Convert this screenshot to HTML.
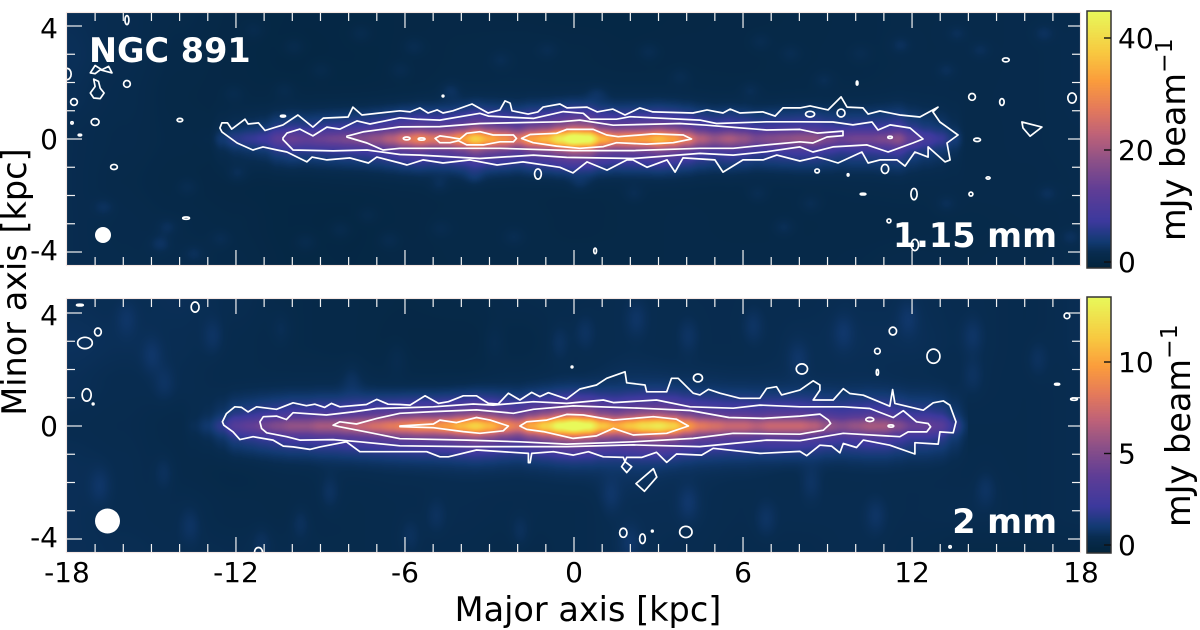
<!DOCTYPE html>
<html lang="en">
<head>
<meta charset="utf-8">
<title>NGC 891 millimetre maps</title>
<style>
html,body{margin:0;padding:0;background:#fff;width:1200px;height:630px;overflow:hidden}
#figure{position:relative;width:1200px;height:630px;font-family:"DejaVu Sans","Liberation Sans",sans-serif}
canvas{position:absolute;display:block}
svg{position:absolute;left:0;top:0}
text{font-family:"DejaVu Sans","Liberation Sans",sans-serif}
</style>
</head>
<body>
<div id="figure">
<canvas id="map-top" width="1013" height="252" style="left:67px;top:13px"></canvas>
<canvas id="map-bottom" width="1013" height="253" style="left:67px;top:299px"></canvas>
<canvas id="bar-top" width="24" height="257" style="left:1087px;top:11px"></canvas>
<canvas id="bar-bottom" width="24" height="256" style="left:1087px;top:297px"></canvas>
<svg id="overlay" width="1200" height="630" viewBox="0 0 1200 630"></svg>
</div>
<script>
/* ---------- shared axis data ---------- */
const xMajorTicks = [-18,-12,-6,0,6,12,18];
const yMajorTicks = [-4,0,4];
const xLimits = [-18,18];
const ridgeX = [-14,-13.5,-13,-12.5,-12,-11.5,-11,-10.5,-10,-9.5,-9,-8.5,-8,-7.5,-7,-6.5,-6,-5.5,-5,-4.5,-4,-3.5,-3,-2.5,-2,-1.5,-1,-0.5,0,0.5,1,1.5,2,2.5,3,3.5,4,4.5,5,5.5,6,6.5,7,7.5,8,8.5,9,9.5,10,10.5,11,11.5,12,12.5,13,13.5,14];
const bgX = [-18,-16,-14,-12,-10,-8,-6,-4,-2,0,2,4,6,8,10,12,14,16,18];
const bgY = [4.5,3,1.5,0,-1.5,-3,-4.5];
const colorT = [0,0.06,0.10,0.18,0.30,0.415,0.52,0.62,0.73,0.84,1];
const colorHex = ['#03243c','#082c50','#123a72','#3c399d','#5f3d96','#8c5088','#bf6278','#e57a5b','#fb9d3c','#f8c940','#e8f95a'];

/* ---------- 1.15 mm panel ---------- */
const topRidge = [0,0,0.3,3,5,6,7,11,13,12,13,14,15,16,18,21,25,28,26,27,31,38,33,30,26,32,35,42,48,46,34,30,31,32,35,32,27,21,18,20,18,15,16,17,18,18,15,13,14,14,15,17,11,8,6,3,0];
const topBackground = [
[2,1.6,1,0.5,0.2,0.2,0.4,0.5,0.4,0.3,0.3,0.4,0.5,0.6,0.8,1,1,1.2,1.4],
[2.2,1.6,0.8,0.4,0.1,0.2,0.4,0.6,0.8,0.6,0.4,0.5,0.5,0.7,0.8,1,1,1.2,1.5],
[2,1.4,0.6,0.4,0.3,0.3,0.4,0.8,0.9,0.8,0.8,0.7,0.6,0.7,0.9,1.1,1.1,1.2,1.5],
[1.6,1.2,0.8,0.4,0.6,0.8,0.8,0.8,0.8,0.8,0.8,0.8,0.8,0.8,0.8,0.8,1,1.2,1.4],
[1.6,1,0.6,0.3,0.2,0.3,0.4,0.5,0.5,0.4,0.6,0.6,0.6,0.7,0.9,1,1.1,1.1,1.3],
[1.6,1.2,0.9,0.6,0.2,0.1,0.4,0.7,0.7,0.5,0.6,0.8,0.6,0.7,0.8,0.8,0.9,1,1.2],
[1.6,1.3,1.2,0.8,0.3,0.2,0.5,0.6,0.7,0.7,0.6,0.8,0.9,0.8,0.9,1.1,1,1.1,1.3]
];
const topTexture = [[-9.96,3.28,1.2],[-7.59,3.75,1.2],[-5.7,3.28,1.4],[-6.17,2.45,1.2],[-11.38,3.87,1],[-9,2.45,1],[-0.96,3.16,1.2],[-2.62,2.81,1.2],[-4.4,1.75,1.4],[-10.3,1.75,1],[-12.1,1.63,1],[2.64,3.1,1.4],[6.6,3.46,1.2],[7.67,3.04,1.2],[3.76,2.22,1.2],[11.57,3.34,1.4],[13.58,3.75,1.2],[14.4,3.16,1.2],[10.15,3.04,1],[8.85,2.1,1.2],[16.66,3.75,1.2],[6.25,1.75,1.2],[0.81,1.63,1.2],[13.2,2.45,1.2],[-11.97,-1.21,1.4],[-13.74,-1.68,1.2],[-16.7,-2.39,1.2],[-14.45,-3.1,1.4],[-14.7,-3.69,1.6],[-12.56,-3.51,1.2],[-8.3,-3.2,1.2],[-9.54,-3.63,1.2],[-6.58,-3.57,1.2],[-4.75,-3.16,1],[-4.8,-1.62,1.2],[-3.57,-1.33,1.2],[-2.15,-3.45,1.2],[-7.35,-2.69,1],[-13.5,-4.04,1.2],[2.11,-1.92,1.2],[0.2,-1.57,1.2],[6.5,-1.92,1.2],[7.43,-3.1,1.4],[8.38,-2.27,1.2],[13.2,-2.27,1.2],[16.78,-1.92,1.2],[17.6,-3.45,1.2]];
const topBar = {min:-1,max:45};
const topBarTicks = [0,20,40];
const topOuter = [[-12.57,0.39],[-12.5,0.57],[-12.3,0.57],[-12.15,0.35],[-11.68,0.7],[-11.57,0.53],[-11.2,0.57],[-10.97,0.3],[-10.33,0.5],[-9.8,0.85],[-9.27,0.42],[-8.9,0.74],[-8.02,0.78],[-7.85,1.13],[-7.53,0.85],[-6.18,1],[-5.82,0.96],[-5.47,1.1],[-5.18,0.92],[-4.86,1.03],[-4.65,0.92],[-4.3,1],[-3.62,1.24],[-3.05,0.92],[-2.63,1.03],[-2.45,1.35],[-2.27,1.27],[-2.2,1],[-1.63,0.88],[-1.28,0.96],[-1.1,1.13],[-0.5,1.24],[-0.25,1.1],[0.46,1.13],[0.82,0.96],[1.38,1.06],[1.81,0.85],[2.34,1.1],[2.8,0.96],[4.22,0.92],[4.72,1.03],[5.29,0.92],[5.54,1.06],[5.89,0.92],[6.71,0.96],[7.14,0.81],[7.42,1.1],[8.02,1.1],[8.38,1.17],[9.02,1.03],[9.48,1.49],[9.69,1.13],[10.26,1.1],[10.44,0.88],[10.86,0.99],[11.57,0.85],[12.28,0.78],[12.92,1.13],[12.74,0.96],[12.99,0.6],[13.24,0.42],[13.63,0.14],[13.24,-0.14],[13.35,-0.74],[13.17,-0.81],[12.57,-0.28],[12.57,-0.64],[12.1,-0.46],[11.75,-0.96],[11.47,-0.74],[10.86,-0.74],[10.44,-0.85],[10.22,-0.46],[9.37,-0.85],[9.02,-0.74],[8.63,-0.64],[8.02,-0.78],[7.2,-0.57],[6.71,-0.74],[6,-0.74],[5.29,-1.17],[5,-0.74],[3.87,-0.67],[3.59,-1.17],[3.3,-0.74],[2.59,-1],[2.09,-0.74],[1.88,-0.74],[1.17,-1.1],[0.46,-0.81],[-0.04,-1.2],[-0.5,-1],[-1.81,-0.81],[-2.73,-0.92],[-3.69,-0.74],[-4.65,-0.85],[-5.36,-0.74],[-5.93,-0.92],[-6.18,-0.85],[-7,-0.64],[-7.3,-0.85],[-7.95,-0.67],[-8.77,-0.74],[-9.3,-0.64],[-9.48,-0.81],[-10.19,-0.46],[-10.54,-0.39],[-11.04,-0.28],[-11.4,-0.39],[-11.96,-0.14],[-12.5,0.25]];
const topMiddle = [[-10.33,0.04],[-10.19,0.21],[-9.73,0.35],[-9.27,0.11],[-8.77,0.42],[-8.31,0.35],[-7.7,0.64],[-7.24,0.53],[-6.18,0.75],[-5.59,0.7],[-4.76,0.67],[-3.34,0.91],[-3.04,0.81],[-1.44,0.73],[-0.38,0.97],[0.33,0.91],[0.57,0.7],[1.51,0.7],[1.99,0.79],[4.47,0.67],[5.06,0.55],[6.84,0.61],[8.02,0.61],[9.19,0.6],[9.9,0.5],[10.58,0.6],[10.79,0.32],[11.22,0.5],[11.93,0.39],[12.39,0],[12.03,-0.14],[11.15,-0.46],[10.4,-0.21],[9.19,-0.28],[8.48,-0.46],[8.02,-0.28],[6.84,-0.45],[5.65,-0.57],[4.47,-0.51],[2.1,-0.69],[-0.26,-0.65],[-1.44,-0.57],[-3.34,-0.69],[-5.47,-0.57],[-6.18,-0.55],[-7.35,-0.39],[-8.55,-0.42],[-9.97,-0.39],[-10.33,-0.02]];
const topInner = [[-8.06,0.1],[-7.49,0.25],[-6.18,0.43],[-4.76,0.44],[-3.34,0.55],[-0.5,0.61],[0.21,0.67],[1.39,0.49],[3.76,0.55],[4.71,0.49],[6.84,0.32],[8.02,0.34],[8.63,0.21],[9.55,0.28],[9.55,0.12],[8.98,0.07],[8.48,-0.14],[8.02,-0.1],[6.84,-0.21],[5.65,-0.33],[4.47,-0.33],[2.1,-0.41],[-0.03,-0.41],[-2.63,-0.33],[-4.99,-0.33],[-6.18,-0.33],[-6.78,-0.39],[-7.35,-0.14],[-8.06,0.07]];
const topCoreWest = [[-4.93,0.02],[-4.76,0.11],[-4.4,0.06],[-4.05,0],[-3.81,0.2],[-3.34,0.26],[-2.87,0.14],[-2.15,0.14],[-2.04,0.02],[-2.15,-0.1],[-2.63,-0.1],[-3.22,-0.21],[-3.81,-0.21],[-4.1,-0.06],[-4.4,-0.13],[-4.76,-0.13]];
const topCoreEast = [[-1.86,0.02],[-1.56,0.16],[-0.62,0.2],[-0.26,0.34],[0.68,0.34],[1.16,0.14],[1.57,0.08],[2.81,0.18],[3.88,0.14],[4.17,0],[3.52,-0.13],[2.58,-0.18],[1.51,-0.13],[1.04,-0.27],[0.21,-0.33],[-0.62,-0.25],[-1.45,-0.13]];
const topIslandEast = [[15.9,0.6],[16.61,0.42],[16.19,0.1],[15.94,0.39]];
const topBeanNorth = [[-17.17,2.34],[-17,2.6],[-16.76,2.45],[-16.52,2.57],[-16.4,2.34],[-16.82,2.45],[-17,2.31]];
const topBeanSouth = [[-17.05,2.12],[-16.88,2.04],[-16.82,1.8],[-16.68,1.63],[-16.82,1.43],[-17.05,1.45],[-17.17,1.63],[-17,1.86]];
const topIslands = [[-15.87,4.21,0.07,0.16],[-15.87,1.95,0.12,0.12],[-17.75,1.31,0.12,0.12],[-17,0.6,0.14,0.12],[-13.99,0.67,0.1,0.06],[-10.33,0.81,0.09,0.03],[-16.33,-0.99,0.12,0.09],[-13.77,-2.8,0.12,0.04],[-18,2.3,0.15,0.2],[-17.82,0.57,0.04,0.04],[-17.54,0.14,0.06,0.03],[15.33,2.8,0.12,0.07],[10.05,1.98,0.03,0.07],[14.13,1.49,0.12,0.12],[15.19,1.31,0.08,0.12],[17.68,1.45,0.15,0.18],[14.31,-0.03,0.12,0.06],[9.48,0.92,0.14,0.14],[8.38,0.88,0.16,0.1],[8.63,-1.13,0.08,0.07],[9.73,-1.27,0.03,0.04],[11.04,-1.06,0.13,0.16],[10.26,-1.95,0.1,0.03],[12.07,-1.95,0.11,0.2],[14.09,-1.95,0.07,0.07],[14.7,-1.38,0.07,0.04],[11.18,-2.9,0.07,0.07],[12.1,-3.75,0.13,0.2],[-4.65,1.52,0.03,0.03],[-1.28,-1.24,0.12,0.18],[0.75,-3.96,0.05,0.1],[-5.94,0.02,0.12,0.05],[-5.41,0,0.12,0.04],[11.22,0.06,0.08,0.04]];

/* ---------- 2 mm panel ---------- */
const bottomRidge = [0,0.3,0.7,1.5,3,3.5,4,4.5,5,5,5.5,5.5,6,6.5,7,7.5,8,8.5,8.5,9,10,11,10,8.5,7.5,9.5,11,13,14,13,10.5,9.5,10.5,11.5,12,11,9,7.5,7,6.5,6.5,6,6.5,6.5,6.5,6,5,4.5,5,5.5,5.5,4.5,3.5,3.5,3,1.5,0.3];
const bottomBackground = [
[0.5,0.45,0.5,0.4,0.15,0.1,0.05,0.1,0.25,0.3,0.4,0.35,0.35,0.4,0.45,0.45,0.4,0.3,0.45],
[0.6,0.5,0.45,0.3,0.15,0.1,0,0,0.1,0.3,0.4,0.35,0.35,0.45,0.5,0.5,0.4,0.3,0.45],
[0.5,0.4,0.4,0.25,0.25,0.25,0.1,0.1,0.25,0.35,0.55,0.5,0.45,0.45,0.45,0.4,0.35,0.3,0.4],
[0.4,0.35,0.2,0.15,0.4,0.5,0.5,0.5,0.5,0.5,0.5,0.5,0.5,0.5,0.5,0.4,0.3,0.3,0.4],
[0.5,0.4,0.2,0.1,0.2,0.3,0.35,0.4,0.4,0.45,0.6,0.45,0.4,0.3,0.35,0.35,0.3,0.3,0.4],
[0.5,0.4,0.35,0.2,0.15,0.25,0.3,0.35,0.3,0.3,0.45,0.45,0.35,0.4,0.4,0.35,0.4,0.3,0.4],
[0.5,0.45,0.4,0.35,0.3,0.25,0.3,0.3,0.15,0.3,0.45,0.4,0.3,0.3,0.4,0.3,0.15,0.15,0.2]
];
const bottomTexture = [[-12.83,3.2,0.35],[-15,2.5,0.35],[-15.9,3.8,0.3],[-10.4,3.44,0.3],[-0.55,2.97,0.35],[0.37,3.32,0.35],[4.04,3.2,0.35],[6.34,3.56,0.35],[9.55,3.32,0.35],[14.14,3.2,0.35],[16.44,2.38,0.3],[2.2,3.8,0.35],[11.85,3.8,0.35],[-6.29,2.38,0.3],[-2.85,2.97,0.3],[7.94,2.38,0.35],[-14.56,1.55,0.3],[14.14,1.8,0.3],[-7.9,1.67,0.3],[-8.7,-2.34,0.4],[-9.73,-3.4,0.4],[-16.85,-2.1,0.35],[-14.56,-1.63,0.35],[-13.64,-3.5,0.35],[-1.93,-3.75,0.35],[-4.91,-3.16,0.3],[1.29,-2.45,0.35],[4.04,-2.69,0.4],[8.4,-1.98,0.35],[14.6,-2.22,0.35],[6.8,-3.28,0.35],[1.97,-4.1,0.35],[-11.1,-4.1,0.3],[10.7,-3.16,0.35],[-5.83,-3.87,0.3]];
const bottomBar = {min:-0.42,max:13.3};
const bottomBarTicks = [0,5,10];
const bottomOuter = [[-12.48,0.15],[-12.34,0.44],[-12.04,0.68],[-11.8,0.66],[-11.57,0.5],[-11.27,0.68],[-10.56,0.59],[-9.97,0.82],[-9.5,0.72],[-9.2,0.77],[-8.85,0.66],[-8.61,0.8],[-8.31,0.68],[-7.37,0.76],[-7,0.94],[-6.6,0.77],[-6.18,0.76],[-5.82,0.74],[-5.29,1.07],[-4.81,0.8],[-4.46,0.86],[-3.93,1.07],[-3.46,1.07],[-3.04,0.8],[-2.69,0.78],[-2.33,1.16],[-1.92,0.92],[-1.5,1.19],[-1.21,1.04],[-0.91,1.18],[-0.26,0.96],[0.21,1.31],[0.8,1.45],[1.16,1.69],[1.81,1.92],[1.87,1.53],[2.52,1.45],[2.58,1.21],[3.29,1.21],[3.46,1.69],[3.7,1.69],[4.23,1.16],[4.47,1.1],[4.77,1.3],[5.18,1.16],[5.89,0.98],[6.6,0.98],[6.84,1.33],[7.19,1.39],[7.37,1.1],[8.02,1.27],[8.49,1.6],[8.73,1.45],[8.73,1.27],[8.49,0.92],[9.2,0.92],[9.56,1.32],[9.79,1.15],[10.27,1.09],[11.21,0.7],[11.31,1.29],[11.39,0.8],[12.4,0.56],[12.75,0.82],[13.11,0.89],[13.34,0.74],[13.56,0.15],[13.46,-0.24],[12.99,-0.21],[12.93,-0.64],[12.1,-0.59],[12.1,-0.99],[11.21,-0.68],[10.27,-0.5],[10.03,-0.76],[9.56,-0.62],[9.44,-0.95],[9.14,-0.71],[8.73,-0.68],[8.26,-1.05],[8.02,-0.9],[6.6,-0.97],[4.94,-0.79],[4.53,-1.03],[3.64,-0.99],[3.29,-1.29],[2.93,-0.93],[2.4,-1.11],[1.87,-1.11],[1.81,-1.26],[2.05,-1.44],[1.87,-1.65],[1.69,-1.44],[1.81,-1.26],[1.75,-1.11],[1.04,-1.09],[0.51,-0.91],[-0.02,-1.03],[-0.73,-0.91],[-1.5,-0.97],[-1.56,-1.3],[-1.62,-1.3],[-1.62,-0.97],[-3.46,-0.85],[-4.46,-1.09],[-4.76,-1.09],[-5.23,-0.91],[-6.18,-0.91],[-7.25,-0.91],[-7.6,-0.91],[-8.08,-0.56],[-9.02,-0.74],[-9.38,-0.83],[-9.97,-0.74],[-10.32,-0.71],[-10.68,-0.5],[-11.39,-0.38],[-11.86,-0.48],[-12.1,-0.21],[-12.43,0.03]];
const bottomMiddle = [[-11.15,0.15],[-11.03,0.33],[-10.56,0.35],[-10.21,0.23],[-9.97,0.47],[-8.79,0.39],[-7.84,0.5],[-7,0.62],[-6.18,0.64],[-4.99,0.68],[-3.58,0.78],[-2.87,0.74],[-1.44,0.86],[-0.26,0.8],[1.04,0.92],[1.4,0.83],[2.93,0.92],[4.12,0.68],[5.65,0.63],[6.6,0.74],[8.02,0.68],[9.56,0.68],[10.5,0.62],[11.33,0.3],[11.69,0.54],[12.16,0.15],[12.57,0.09],[12.66,-0.03],[12.52,-0.21],[11.86,-0.21],[11.57,-0.38],[9.56,-0.26],[8.02,-0.52],[6.84,-0.5],[4.47,-0.73],[2.1,-0.67],[-0.26,-0.73],[-2.27,-0.73],[-3.81,-0.73],[-6.18,-0.7],[-7.6,-0.56],[-8.55,-0.48],[-9.73,-0.5],[-10.2,-0.38],[-10.91,-0.24],[-11.09,-0.09]];
const bottomInner = [[-8.55,0.03],[-8.31,0.15],[-7.72,0.07],[-7,0.27],[-6.18,0.45],[-4.99,0.51],[-3.46,0.57],[-2.15,0.45],[-1.44,0.59],[-0.03,0.71],[2.34,0.63],[4.12,0.55],[5.5,0.3],[6.72,0.27],[8.02,0.35],[8.73,0.42],[9.03,0.21],[9.11,0.09],[8.85,-0.15],[8.02,-0.29],[5.65,-0.26],[4.23,-0.44],[2.1,-0.56],[-0.26,-0.64],[-1.92,-0.56],[-3.81,-0.5],[-6.18,-0.45],[-7.37,-0.21],[-8.31,-0.03]];
const bottomCoreWest = [[-6.18,0],[-4.99,0.07],[-4.76,0.21],[-4.17,0.12],[-3.46,0.3],[-2.98,0.21],[-2.33,0],[-2.51,-0.17],[-3.34,-0.26],[-3.93,-0.2],[-4.99,-0.06],[-6.18,-0.02]];
const bottomCoreEast = [[-1.92,0],[-1.68,0.15],[-0.97,0.21],[-0.26,0.41],[0.33,0.39],[1.4,0.21],[2.82,0.33],[3.64,0.24],[4.06,0],[3.29,-0.26],[2.1,-0.32],[1.4,-0.08],[0.8,-0.35],[-0.03,-0.44],[-1.09,-0.2],[-1.68,-0.12]];
const bottomIslandSouth = [[2.82,-1.51],[2.2,-2.04],[2.5,-2.31],[2.94,-1.81]];
const bottomIslands = [[-17.54,4.28,0.12,0.03],[-16.9,3.33,0.12,0.14],[-17.36,2.94,0.26,0.2],[-17.3,1.1,0.16,0.22],[-17.07,0.78,0.03,0.03],[-13.45,4.21,0.14,0.18],[-11.2,-4.46,0.14,0.16],[11.32,3.36,0.13,0.14],[10.77,2.65,0.1,0.1],[12.76,2.47,0.23,0.25],[10.77,1.9,0.04,0.1],[17.5,3.9,0.1,0.1],[17.15,1.48,0.09,0.03],[17.75,0.95,0.12,0.04],[13.35,-4.28,0.04,0.04],[8.09,2.02,0.2,0.18],[4.4,1.7,0.16,0.14],[-0.07,2.09,0.03,0.03],[1.75,-3.78,0.13,0.16],[2.43,-3.99,0.1,0.17],[2.78,-3.72,0.03,0.03],[3.97,-3.75,0.22,0.2],[10.5,0.23,0.14,0.07],[11.25,0,0.1,0.04]];

/* ---------- geometry of the figure ---------- */
const NS = 'http://www.w3.org/2000/svg';
const overlay = document.getElementById('overlay');
const axisLeft = 67, axisRight = 1080;
const panels = [
  {key:'top',  top:13, bottom:265, zero:139, ridge:topRidge, bg:topBackground, texture:topTexture, blobRx:0.36, blobRy:0.3, bar:topBar, ticks:topBarTicks, barTop:11, barBottom:268,
   levels:[topOuter,topMiddle,topInner,topCoreWest,topCoreEast], shapes:[topIslandEast,topBeanNorth,topBeanSouth], islands:topIslands, canvas:'map-top', barCanvas:'bar-top'},
  {key:'bottom',top:299,bottom:552,zero:426, ridge:bottomRidge,bg:bottomBackground,texture:bottomTexture, blobRx:0.36, blobRy:0.6, bar:bottomBar,ticks:bottomBarTicks,barTop:297,barBottom:553,
   levels:[bottomOuter,bottomMiddle,bottomInner,bottomCoreWest,bottomCoreEast], shapes:[bottomIslandSouth], islands:bottomIslands, canvas:'map-bottom', barCanvas:'bar-bottom'}
];
function xScale(v){ return 574 + v * 28.17; }
function yScale(panel, v){ return panel.zero - v * 28.25; }
function xInvert(px){ return (px - 574) / 28.17; }
function yInvert(panel, py){ return (panel.zero - py) / 28.25; }

function hexRgb(h){ return [parseInt(h.slice(1,3),16),parseInt(h.slice(3,5),16),parseInt(h.slice(5,7),16)]; }
const colorRgb = colorHex.map(hexRgb);
function colormap(t){
  t = Math.max(0, Math.min(1, t));
  let i = 0;
  while (i < colorT.length - 2 && t > colorT[i + 1]) i++;
  const f = (t - colorT[i]) / (colorT[i + 1] - colorT[i]);
  return [0,1,2].map(k => colorRgb[i][k] + (colorRgb[i + 1][k] - colorRgb[i][k]) * f);
}
function smooth(f){ return f * f * (3 - 2 * f); }
function locate(arr, v, descending){
  const n = arr.length;
  for (let i = 0; i < n - 1; i++) {
    const a = arr[i], b = arr[i + 1];
    if (descending ? v >= b : v <= b) {
      return [i, Math.max(0, Math.min(1, (v - a) / (b - a)))];
    }
  }
  return [n - 2, 1];
}
function ridgeAt(series, x){
  if (x < ridgeX[0] || x > ridgeX[ridgeX.length - 1]) return 0;
  const [i, f] = locate(ridgeX, x, false);
  return series[i] + (series[i + 1] - series[i]) * smooth(f);
}
function backgroundAt(grid, x, y){
  const [c, fx] = locate(bgX, x, false);
  const [r, fy] = locate(bgY, y, true);
  const sx = smooth(fx), sy = smooth(fy);
  const a = grid[r][c] + (grid[r][c + 1] - grid[r][c]) * sx;
  const b = grid[r + 1][c] + (grid[r + 1][c + 1] - grid[r + 1][c]) * sx;
  return a + (b - a) * sy;
}
function verticalProfile(y){
  return 0.5 * Math.exp(-(y * y) / (0.3 * 0.3)) + 0.5 * Math.exp(-(y * y) / (0.9 * 0.9));
}
function drawMap(panel){
  const cv = document.getElementById(panel.canvas);
  const ctx = cv.getContext('2d');
  const w = cv.width, h = cv.height;
  const field = new Float32Array(w * h);
  for (let py = 0; py < h; py++) {
    const y = yInvert(panel, panel.top + py + 0.5);
    const vp = verticalProfile(y);
    for (let px = 0; px < w; px++) {
      const x = xInvert(axisLeft + px + 0.5);
      field[py * w + px] = backgroundAt(panel.bg, x, y) + ridgeAt(panel.ridge, x) * vp;
    }
  }
  panel.texture.forEach(b => {
    const cx = xScale(b[0]) - axisLeft, cy = yScale(panel, b[1]) - panel.top;
    const sx = panel.blobRx * 28.17, sy = panel.blobRy * 28.25;
    const x0 = Math.max(0, Math.floor(cx - 3 * sx)), x1 = Math.min(w - 1, Math.ceil(cx + 3 * sx));
    const y0 = Math.max(0, Math.floor(cy - 3 * sy)), y1 = Math.min(h - 1, Math.ceil(cy + 3 * sy));
    for (let py = y0; py <= y1; py++) {
      for (let px = x0; px <= x1; px++) {
        const dx = (px - cx) / sx, dy = (py - cy) / sy;
        field[py * w + px] += b[2] * Math.exp(-(dx * dx + dy * dy));
      }
    }
  });
  const img = ctx.createImageData(w, h);
  const span = panel.bar.max - panel.bar.min;
  for (let i = 0; i < field.length; i++) {
    const rgb = colormap((field[i] - panel.bar.min) / span);
    img.data[i * 4] = rgb[0];
    img.data[i * 4 + 1] = rgb[1];
    img.data[i * 4 + 2] = rgb[2];
    img.data[i * 4 + 3] = 255;
  }
  ctx.putImageData(img, 0, 0);
}
function drawBar(panel){
  const cv = document.getElementById(panel.barCanvas);
  const ctx = cv.getContext('2d');
  for (let py = 0; py < cv.height; py++) {
    const rgb = colormap(1 - py / (cv.height - 1));
    ctx.fillStyle = 'rgb(' + rgb.map(Math.round).join(',') + ')';
    ctx.fillRect(0, py, cv.width, 1);
  }
}
function add(tag, attrs, parent, text){
  const el = document.createElementNS(NS, tag);
  for (const k in attrs) el.setAttribute(k, attrs[k]);
  if (text !== undefined) el.textContent = text;
  (parent || overlay).appendChild(el);
  return el;
}
function tick(group, x1, y1, x2, y2, name, color, width){
  const el = add('line', {x1:x1, y1:y1, x2:x2, y2:y2, stroke:color, 'stroke-width':width}, group);
  
  
}
function label(group, x, y, txt, anchor, size, name){
  const el = add('text', {x:x, y:y, 'text-anchor':anchor, 'font-size':size, fill:'#000'}, group, txt);
  
  
  return el;
}
function pointsOf(panel, pts){
  return pts.map(p => xScale(p[0]).toFixed(1) + ',' + yScale(panel, p[1]).toFixed(1)).join(' ');
}

const defs = add('defs', {});
panels.forEach(panel => {
  const clip = add('clipPath', {id:'clip-' + panel.key}, defs);
  add('rect', {x:axisLeft, y:panel.top, width:axisRight - axisLeft, height:panel.bottom - panel.top}, clip);
});

panels.forEach(panel => {
  drawMap(panel);
  drawBar(panel);

  const contourGroup = add('g', {'clip-path':'url(#clip-' + panel.key + ')', fill:'none', stroke:'#fff', 'stroke-width':1.7, 'stroke-linejoin':'round'});
  
  
  panel.levels.forEach((pts, i) => {
    const poly = add('polygon', {points:pointsOf(panel, pts)}, contourGroup);
    
    
  });
  panel.shapes.forEach(pts => {
    const shape = add('polygon', {points:pointsOf(panel, pts)}, contourGroup);
    
    
  });
  panel.islands.forEach(d => {
    const e = add('ellipse', {cx:xScale(d[0]), cy:yScale(panel, d[1]), rx:d[2] * 28.17, ry:d[3] * 28.25}, contourGroup);
    
    
  });

  const axes = add('g', {});
  
  
  const frame = add('rect', {x:axisLeft - 0.5, y:panel.top - 0.5, width:axisRight - axisLeft + 1, height:panel.bottom - panel.top + 1, fill:'none', stroke:'#f0d8d0', 'stroke-width':1.2, 'stroke-opacity':0.6}, axes);
  
  
  for (let v = xLimits[0] + 1; v < xLimits[1]; v++) {
    const major = xMajorTicks.indexOf(v) >= 0;
    const len = major ? 15 : 8;
    tick(axes, xScale(v), panel.top, xScale(v), panel.top + len, 'x-tick-top', '#f2f2f2', 1.2);
    tick(axes, xScale(v), panel.bottom, xScale(v), panel.bottom - len, 'x-tick-bottom', '#f2f2f2', 1.2);
  }
  for (let v = -4; v <= 4; v++) {
    const major = yMajorTicks.indexOf(v) >= 0;
    tick(axes, axisLeft, yScale(panel, v), axisLeft + (major ? 15 : 8), yScale(panel, v), 'y-tick-left', '#f2f2f2', 1.2);
    tick(axes, axisRight, yScale(panel, v), axisRight - (major ? 12 : 8), yScale(panel, v), 'y-tick-right', '#f2f2f2', 1.2);
  }
  yMajorTicks.forEach(v => {
    const offset = v === 4 ? 12 : v === -4 ? 8 : 10;
    label(axes, 58, yScale(panel, v) + offset, String(v), 'end', 28, 'y-tick-label');
  });

  const barAxis = add('g', {});
  
  
  const border = add('rect', {x:1087, y:panel.barTop, width:24, height:panel.barBottom - panel.barTop, fill:'none', stroke:'#333', 'stroke-width':1.5}, barAxis);
  
  
  const perUnit = panel.key === 'top' ? 5.6 : 18.3;
  const zeroY = panel.key === 'top' ? 262 : 545;
  panel.ticks.forEach(v => {
    const y = zeroY - v * perUnit;
    tick(barAxis, 1104, y, 1111, y, 'colorbar-tick', '#111', 1.4);
    label(barAxis, 1118, y + 10, String(v), 'start', 28, 'colorbar-tick-label');
  });
});

xMajorTicks.forEach(v => {
  label(overlay, xScale(v), 582, String(v), 'middle', 28, 'x-tick-label');
});
</script>
<script>
/* static annotations */
(function(){
  const o = document.getElementById('overlay');
  o.insertAdjacentHTML('beforeend',
    '<circle cx="103" cy="235" r="8" fill="#fff"/>' +
    '<circle cx="107.5" cy="521" r="12.5" fill="#fff"/>' +
    '<text x="89" y="62" font-size="33.5" font-weight="700" fill="#fff">NGC 891</text>' +
    '<text x="1057" y="247" font-size="33.5" font-weight="700" fill="#fff" text-anchor="end">1.15 mm</text>' +
    '<text x="1057" y="533" font-size="33.5" font-weight="700" fill="#fff" text-anchor="end">2 mm</text>' +
    '<text x="588" y="621" font-size="33.5" fill="#000" text-anchor="middle">Major axis [kpc]</text>' +
    '<text transform="translate(26 282) rotate(-90)" font-size="33.5" fill="#000" text-anchor="middle">Minor axis [kpc]</text>' +
    '<text transform="translate(1185 241) rotate(-90)" font-size="33.5" fill="#000">mJy beam<tspan dy="-13" font-size="23.5">\u22121</tspan></text>' +
    '<text transform="translate(1190 527) rotate(-90)" font-size="33.5" fill="#000">mJy beam<tspan dy="-13" font-size="23.5">\u22121</tspan></text>');
})();
</script>
</body>
</html>
